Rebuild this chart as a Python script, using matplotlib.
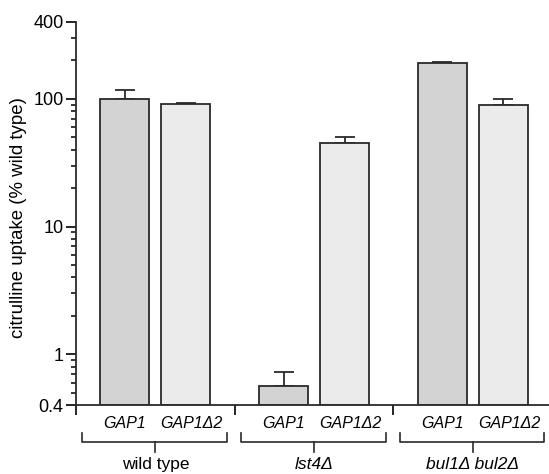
import matplotlib
matplotlib.use("Agg")
import matplotlib.pyplot as plt
from matplotlib.ticker import FixedLocator, NullFormatter

plt.rcParams['font.family'] = ['Liberation Sans', 'DejaVu Sans']

groups = ["wild type", "lst4Δ", "bul1Δ bul2Δ"]
group_italic = [False, True, True]
alleles = ["GAP1", "GAP1Δ2"]
gap1_vals = [100, 0.56, 191]
gap1_err_top = [117, 0.72, 194]
gap1d2_vals = [91, 45, 90]
gap1d2_err_top = [93, 50.5, 100]
y_ticks = [0.4, 1, 10, 100, 400]
y_tick_labels = ["0.4", "1", "10", "100", "400"]

dark = "#d3d3d3"
light = "#ebebeb"
edge = "#2a2a2a"
base = 0.4
off = 0.192
width = 0.31

fig = plt.figure(figsize=(5.49, 4.74), dpi=100)
ax = fig.add_axes([76 / 549, 1 - 405 / 474, 473 / 549, 383 / 474])
trans = ax.get_xaxis_transform()

for i, g in enumerate(groups):
    for j, (vals, tops, col) in enumerate([(gap1_vals, gap1_err_top, dark),
                                           (gap1d2_vals, gap1d2_err_top, light)]):
        x = i + (-off if j == 0 else off)
        v = vals[i]
        ax.bar(x, v - base, bottom=base, width=width, color=col,
               edgecolor=edge, linewidth=1.3, zorder=2)
        ax.errorbar(x, v, yerr=[[0], [tops[i] - v]], fmt='none',
                    ecolor=edge, elinewidth=1.3, capsize=7.5, capthick=1.3, zorder=1)
        ax.text(x + (0.035 if j == 1 else 0), -0.047, alleles[j], transform=trans,
                ha='center', va='center', style='italic', fontsize=11.5)
    # bracket under each group
    x0, x1 = i - 0.46, i + 0.45
    ax.plot([x0, x0, x1, x1], [-0.073, -0.096, -0.096, -0.073], transform=trans,
            color=edge, lw=1.2, clip_on=False)
    ax.plot([i, i], [-0.096, -0.122], transform=trans, color=edge, lw=1.2, clip_on=False)
    ax.text(i, -0.168, g, transform=trans, ha='center', va='baseline',
            fontsize=12.5, style='italic' if group_italic[i] else 'normal')

ax.set_yscale('log')
ax.set_ylim(0.4, 400)
ax.set_xlim(-0.5, 2.48)
ax.yaxis.set_major_locator(FixedLocator(y_ticks))
ax.set_yticklabels(y_tick_labels)
minor = [m * 10 ** e for e in (-1, 0, 1, 2) for m in range(2, 10)]
minor = [v for v in minor if 0.4 < v < 400 and v not in y_ticks]
ax.yaxis.set_minor_locator(FixedLocator(minor))
ax.yaxis.set_minor_formatter(NullFormatter())
ax.tick_params(axis='y', which='major', length=7, width=1.2, labelsize=13, pad=2)
ax.tick_params(axis='y', which='minor', length=3.5, width=1.1)
ax.set_xticks([-0.5, 0.5, 1.5])
ax.set_xticklabels([])
ax.tick_params(axis='x', which='major', length=7, width=1.2)
ax.tick_params(axis='x', which='minor', length=0)

for s in ['top', 'right']:
    ax.spines[s].set_visible(False)
for s in ['left', 'bottom']:
    ax.spines[s].set_linewidth(1.3)
    ax.spines[s].set_color(edge)

ax.set_ylabel("citrulline uptake (% wild type)", fontsize=13.4)
ax.yaxis.set_label_coords(-0.103, 0.49)

fig.savefig("out.png", dpi=100)
